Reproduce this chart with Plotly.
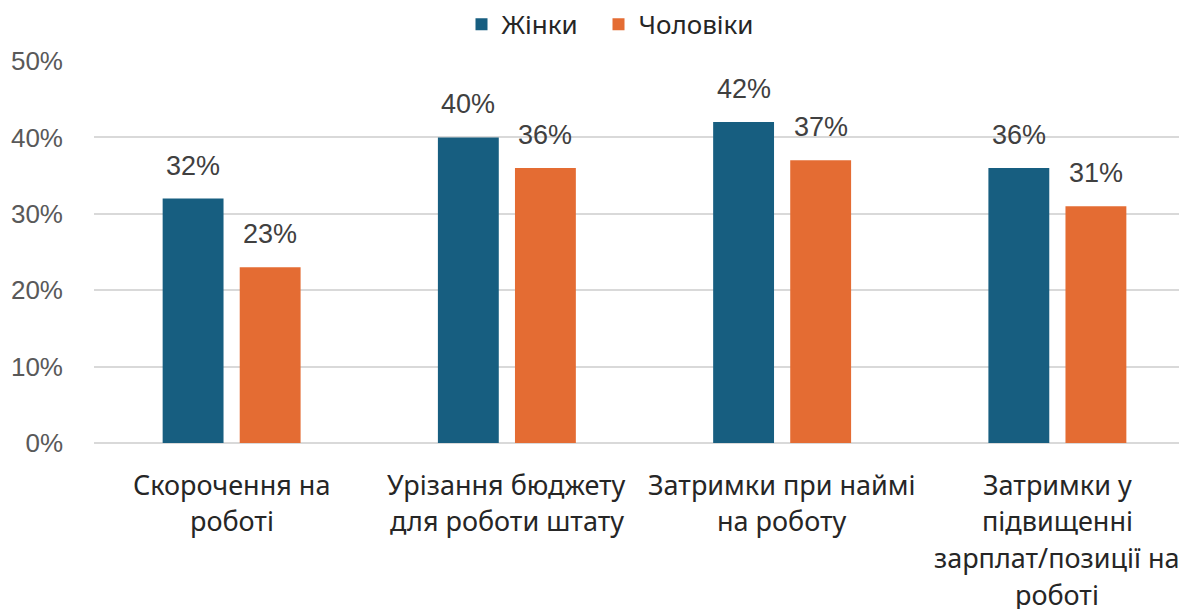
import plotly.graph_objects as go

categories = ["Скорочення на<br>роботі", "Урізання бюджету<br>для роботи штату",
              "Затримки при наймі<br>на роботу", "Затримки у<br>підвищенні<br>зарплат/позиції на<br>роботі"]
women = [0.32, 0.40, 0.42, 0.36]
men = [0.23, 0.36, 0.37, 0.31]
series_names = ["Жінки", "Чоловіки"]
y_ticks = [0, 0.1, 0.2, 0.3, 0.4, 0.5]
y_tick_labels = ["0%", "10%", "20%", "30%", "40%", "50%"]

colors = ["#175E80", "#E46C33"]
legend_ids = ["legend", "legend2"]
x_idx = list(range(len(categories)))

fig = go.Figure()
for name, vals, col, lg in zip(series_names, [women, men], colors, legend_ids):
    fig.add_trace(go.Bar(x=x_idx, y=vals, name=name, marker_color=col,
                         marker_line_width=0, legend=lg, showlegend=True))

annotations = []
for vals, shift in zip([women, men], [-38.5, 38.5]):
    for i, v in enumerate(vals):
        annotations.append(dict(x=i, y=v, xref="x", yref="y", text=f"{round(v*100)}%",
                                showarrow=False, xshift=shift, yshift=33,
                                font=dict(family="Liberation Sans, Arial", size=27, color="#404040")))
for i, lab in enumerate(categories):
    for j, line in enumerate(lab.split("<br>")):
        annotations.append(dict(x=i, y=0, xref="x", yref="y", text=line, showarrow=False,
                                xshift=0, yshift=-41 - 36.7 * j,
                                font=dict(family="Noto Sans, sans-serif", size=27, color="#262626")))

legend_font = dict(family="Noto Sans, sans-serif", size=26, color="#262626")

fig.update_layout(
    width=1187, height=609,
    margin=dict(l=86, r=0, t=53, b=174, autoexpand=False),
    plot_bgcolor="white", paper_bgcolor="white",
    showlegend=True,
    barmode="group", bargap=0.44, bargroupgap=0.21,
    annotations=annotations,
    legend=dict(orientation="h", xref="container", x=453.5 / 1187, xanchor="left",
                yref="paper", y=1.096, yanchor="middle", font=legend_font),
    legend2=dict(orientation="h", xref="container", x=590.5 / 1187, xanchor="left",
                 yref="paper", y=1.096, yanchor="middle", font=legend_font),
    xaxis=dict(range=[-0.5, 3.5], showticklabels=False, showgrid=False,
               zeroline=False, showline=False, ticks=""),
    yaxis=dict(range=[0, 0.5], tickvals=y_ticks, ticktext=y_tick_labels,
               showgrid=True, gridcolor="#D9D9D9", gridwidth=2,
               zeroline=True, zerolinecolor="#D9D9D9", zerolinewidth=2,
               ticklabelstandoff=30,
               tickfont=dict(family="Liberation Sans, Arial", size=26, color="#595959")),
)

fig.write_html("out.html")
